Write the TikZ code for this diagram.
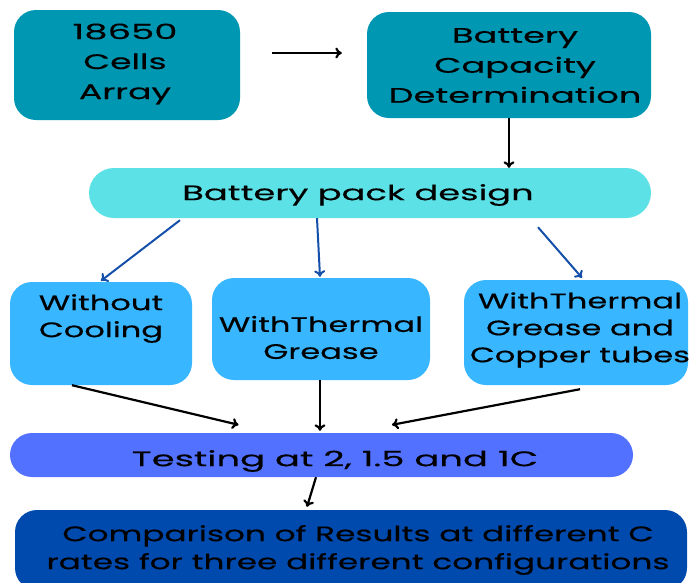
\documentclass[tikz,border=0pt]{standalone}
\usepackage{fontspec}
\setmainfont{Poppins}[FakeStretch=1.65,FakeBold=0.4]
\newfontfamily\fA{Poppins}[FakeStretch=1.68,FakeBold=0.4]
\newfontfamily\fD{Poppins}[FakeStretch=1.53,FakeBold=0.4]
\newfontfamily\fE{Poppins}[FakeStretch=1.76,FakeBold=0.4]
\newfontfamily\fF{Poppins}[FakeStretch=1.56,FakeBold=0.4]
\usetikzlibrary{arrows.meta,calc}
\definecolor{teal1}{HTML}{0097B2}
\definecolor{cyan1}{HTML}{5CE1E6}
\definecolor{sky1}{HTML}{38B6FF}
\definecolor{blue1}{HTML}{5271FF}
\definecolor{navy1}{HTML}{004AAD}
\definecolor{arrblue}{HTML}{1450AA}
\tikzset{
  box/.style={rectangle, rounded corners=22pt, draw=none, inner sep=0pt, align=center},
  txt/.style={inner sep=0pt, align=center, font=\fontsize{21}{28}\selectfont},
  arr/.style={-{To[length=6.5pt,width=11pt]}, line width=2.2pt, black},
  barr/.style={-{To[length=6.5pt,width=11pt]}, line width=2pt, arrblue},
}
\begin{document}
\begin{tikzpicture}[x=1pt,y=-1pt]
\useasboundingbox (0,0) rectangle (689,582);
\clip (0,0) rectangle (689,582);
% boxes
\node[box, fill=teal1, minimum width=226pt, minimum height=110pt] (A) at (127,65) {};
\node[box, fill=teal1, minimum width=284pt, minimum height=106pt] (B) at (509,65) {};
\node[box, fill=cyan1, rounded corners=25pt, minimum width=562pt, minimum height=50pt] (C) at (370,193) {};
\node[box, fill=sky1, minimum width=182pt, minimum height=103pt] (D1) at (101,333.5) {};
\node[box, fill=sky1, minimum width=218pt, minimum height=102pt] (D2) at (321,329) {};
\node[box, fill=sky1, minimum width=224pt, minimum height=105pt] (D3) at (576,332.5) {};
\node[box, fill=blue1, minimum width=623pt, minimum height=44pt] (E) at (321.5,455) {};
\node[box, fill=navy1, minimum width=672pt, minimum height=80pt] (F) at (351,550) {};
% texts
\node[txt, font=\fontsize{21}{30}\selectfont] (tA) at (125,64) {{\fE 18650}\\Cells\\Array};
\node[txt, font=\fontsize{21}{30}\selectfont\fA] (tB) at (515,65.5) {Battery\\Capacity\\Determination};
\node[txt, font=\fontsize{21}{28}\selectfont\fA] (tC) at (358,195) {Battery pack design};
\node[txt, font=\fontsize{21}{27}\selectfont\fD] (tD1) at (101,318.5) {Without\\Cooling};
\node[txt, font=\fontsize{21}{27}\selectfont\fD] (tD2) at (321,337.5) {WithThermal\\Grease};
\node[txt, font=\fontsize{21}{27}\selectfont\fD] (tD3) at (580,330) {WithThermal\\Grease and\\Copper tubes};
\node[txt, font=\fontsize{21}{28}\selectfont\fE] (tE) at (335,461) {Testing at 2, 1.5 and 1C};
\node[txt, font=\fontsize{21}{28}\selectfont\fF] (tF) at (358,550) {Comparison of Results at different C\\rates for three different configurations};
% connectors
\draw[arr] ([xshift=32pt,yshift=12pt]A.east) -- ([xshift=-25pt,yshift=12pt]B.west);
\draw[arr] (B.south) -- (C.north -| B.south);
\draw[barr] ([xshift=-190pt,yshift=-2pt]C.south) -- ([yshift=1pt]D1.north);
\draw[barr] ([xshift=-53pt]C.south) -- ([xshift=-1pt,yshift=1pt]D2.north);
\draw[barr] ([xshift=168pt,yshift=-9pt]C.south) -- ([xshift=6pt,yshift=2pt]D3.north);
\draw[arr] ([xshift=-29pt]D1.south) -- ([xshift=-83pt,yshift=8pt]E.north);
\draw[arr] ([xshift=-1pt]D2.south) -- ([xshift=-1.5pt,yshift=2pt]E.north);
\draw[arr] ([xshift=4pt,yshift=-4pt]D3.south) -- ([xshift=70.5pt,yshift=8pt]E.north);
\draw[arr] ([xshift=-5.5pt]E.south) -- ([xshift=-44pt,yshift=3pt]F.north);
\end{tikzpicture}
\end{document}
